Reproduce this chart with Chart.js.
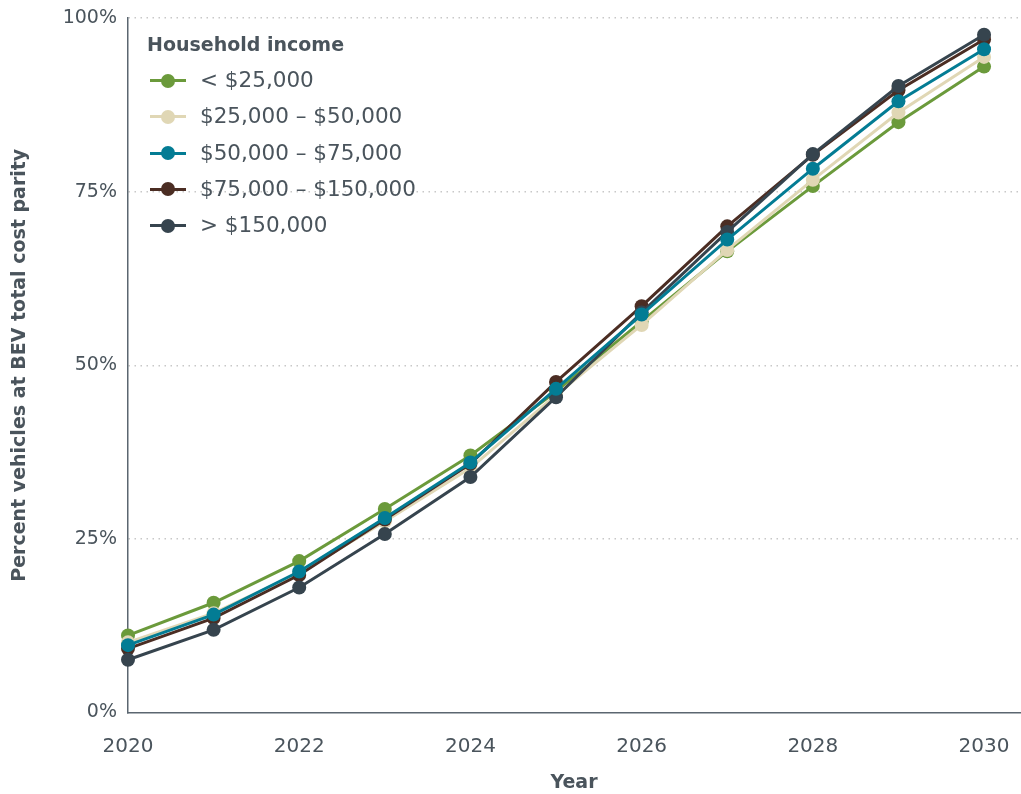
<!DOCTYPE html>
<html>
<head>
<meta charset="utf-8">
<script src="https://cdn.jsdelivr.net/npm/chart.js@4"></script>
<style>
  html, body { margin: 0; padding: 0; background: #ffffff; }
  #wrap { position: relative; width: 1021px; height: 794px; }
  #legend { position: absolute; left: 147px; top: 30px; font-family: "DejaVu Sans", sans-serif; color: #4a545c; }
  #legend .title { font-weight: 700; font-size: 19px; height: 32px; line-height: 28px; }
  #legend .row { position: relative; height: 36.3px; line-height: 36.3px; font-size: 21.5px; padding-left: 53px; white-space: nowrap; }
  #legend .row .ln { position: absolute; left: 3px; top: 17px; width: 36px; height: 3px; }
  #legend .row .dot { position: absolute; left: 14px; top: 11.5px; width: 14px; height: 14px; border-radius: 50%; }
</style>
</head>
<body>
<div id="wrap">
  <canvas id="c" width="1021" height="794"></canvas>
  <div id="legend"></div>
</div>
<script>
const years = [2020, 2021, 2022, 2023, 2024, 2025, 2026, 2027, 2028, 2029, 2030];
const seriesNames = ["< $25,000", "$25,000 \u2013 $50,000", "$50,000 \u2013 $75,000", "$75,000 \u2013 $150,000", "> $150,000"];
const under25k   = [11.1, 15.8, 21.8, 29.3, 37.0, 46.2, 56.3, 66.4, 75.8, 85.0, 93.0];
const from25to50 = [10.1, 14.3, 20.1, 27.5, 35.2, 45.7, 55.8, 66.6, 76.7, 86.4, 94.4];
const from50to75 = [9.7, 14.1, 20.3, 28.0, 36.0, 46.6, 57.3, 68.1, 78.3, 88.0, 95.5];
const from75to150 = [9.2, 13.6, 19.8, 27.8, 35.8, 47.6, 58.5, 70.0, 80.3, 89.6, 96.9];
const over150k   = [7.6, 11.9, 18.0, 25.7, 33.9, 45.4, 57.6, 69.2, 80.4, 90.2, 97.6];
const xTickValues = [2020, 2022, 2024, 2026, 2028, 2030];
const yTickValues = [0, 25, 50, 75, 100];

const seriesValues = [under25k, from25to50, from50to75, from75to150, over150k];
const colors = ["#6b9a3b", "#e0d7b5", "#037c94", "#4b2d23", "#36444e"];
const drawOrder = [4, 3, 0, 2, 1]; // lower = drawn on top
const textColor = "#4a545c";
const fontFamily = "'DejaVu Sans', sans-serif";

const datasets = seriesValues.map((vals, i) => ({
  label: seriesNames[i],
  data: years.map((yr, j) => ({ x: yr, y: vals[j] })),
  borderColor: colors[i],
  backgroundColor: colors[i],
  pointBackgroundColor: colors[i],
  pointBorderColor: colors[i],
  pointRadius: 7,
  pointBorderWidth: 0,
  borderWidth: 3,
  tension: 0,
  clip: false,
  order: drawOrder[i]
}));

new Chart(document.getElementById("c"), {
  type: "line",
  data: { datasets },
  options: {
    responsive: false,
    animation: false,
    devicePixelRatio: 1,
    layout: { autoPadding: false, padding: { top: 18, right: 1, left: 0, bottom: 0 } },
    plugins: { legend: { display: false }, tooltip: { enabled: false } },
    scales: {
      x: {
        type: "linear",
        min: 2020,
        max: 2030.42,
        afterBuildTicks: (s) => { s.ticks = xTickValues.map(v => ({ value: v })); },
        afterFit: (s) => { s.height = 81.5; s.paddingLeft = 0; s.paddingRight = 0; },
        grid: { display: false, drawTicks: false },
        border: { display: true, color: "#5b6670", width: 1.5 },
        ticks: { padding: 22, maxRotation: 0, autoSkip: false, color: textColor, font: { family: fontFamily, size: 20 }, callback: (v) => String(v) },
        title: { display: true, text: "Year", color: textColor, padding: { top: 2, bottom: 0 }, font: { family: fontFamily, size: 19, weight: "bold" } }
      },
      y: {
        type: "linear",
        min: 0,
        max: 100,
        afterBuildTicks: (s) => { s.ticks = yTickValues.map(v => ({ value: v })); },
        afterFit: (s) => { s.width = 128; s.paddingTop = 0; s.paddingBottom = 0; },
        grid: {
          drawTicks: false,
          color: (ctx) => ctx.tick && ctx.tick.value === 0 ? "rgba(0,0,0,0)" : "#c8c8c8",
          lineWidth: 1.5
        },
        border: { display: true, color: "#5b6670", width: 1.5, dash: [1.5, 4.5] },
        ticks: { padding: 11, color: textColor, font: { family: fontFamily, size: 19 }, callback: (v) => v + "%" },
        title: { display: true, text: "Percent vehicles at BEV total cost parity", color: textColor, padding: { top: 9, bottom: 3 }, font: { family: fontFamily, size: 19, weight: "bold" } }
      }
    }
  }
});

// Build HTML legend from the series arrays
const legend = document.getElementById("legend");
const t = document.createElement("div");
t.className = "title";
t.textContent = "Household income";
legend.appendChild(t);
seriesNames.forEach((name, i) => {
  const row = document.createElement("div");
  row.className = "row";
  const ln = document.createElement("span");
  ln.className = "ln"; ln.style.background = colors[i];
  const dot = document.createElement("span");
  dot.className = "dot"; dot.style.background = colors[i];
  row.appendChild(ln); row.appendChild(dot);
  row.appendChild(document.createTextNode(name));
  legend.appendChild(row);
});
</script>
</body>
</html>
